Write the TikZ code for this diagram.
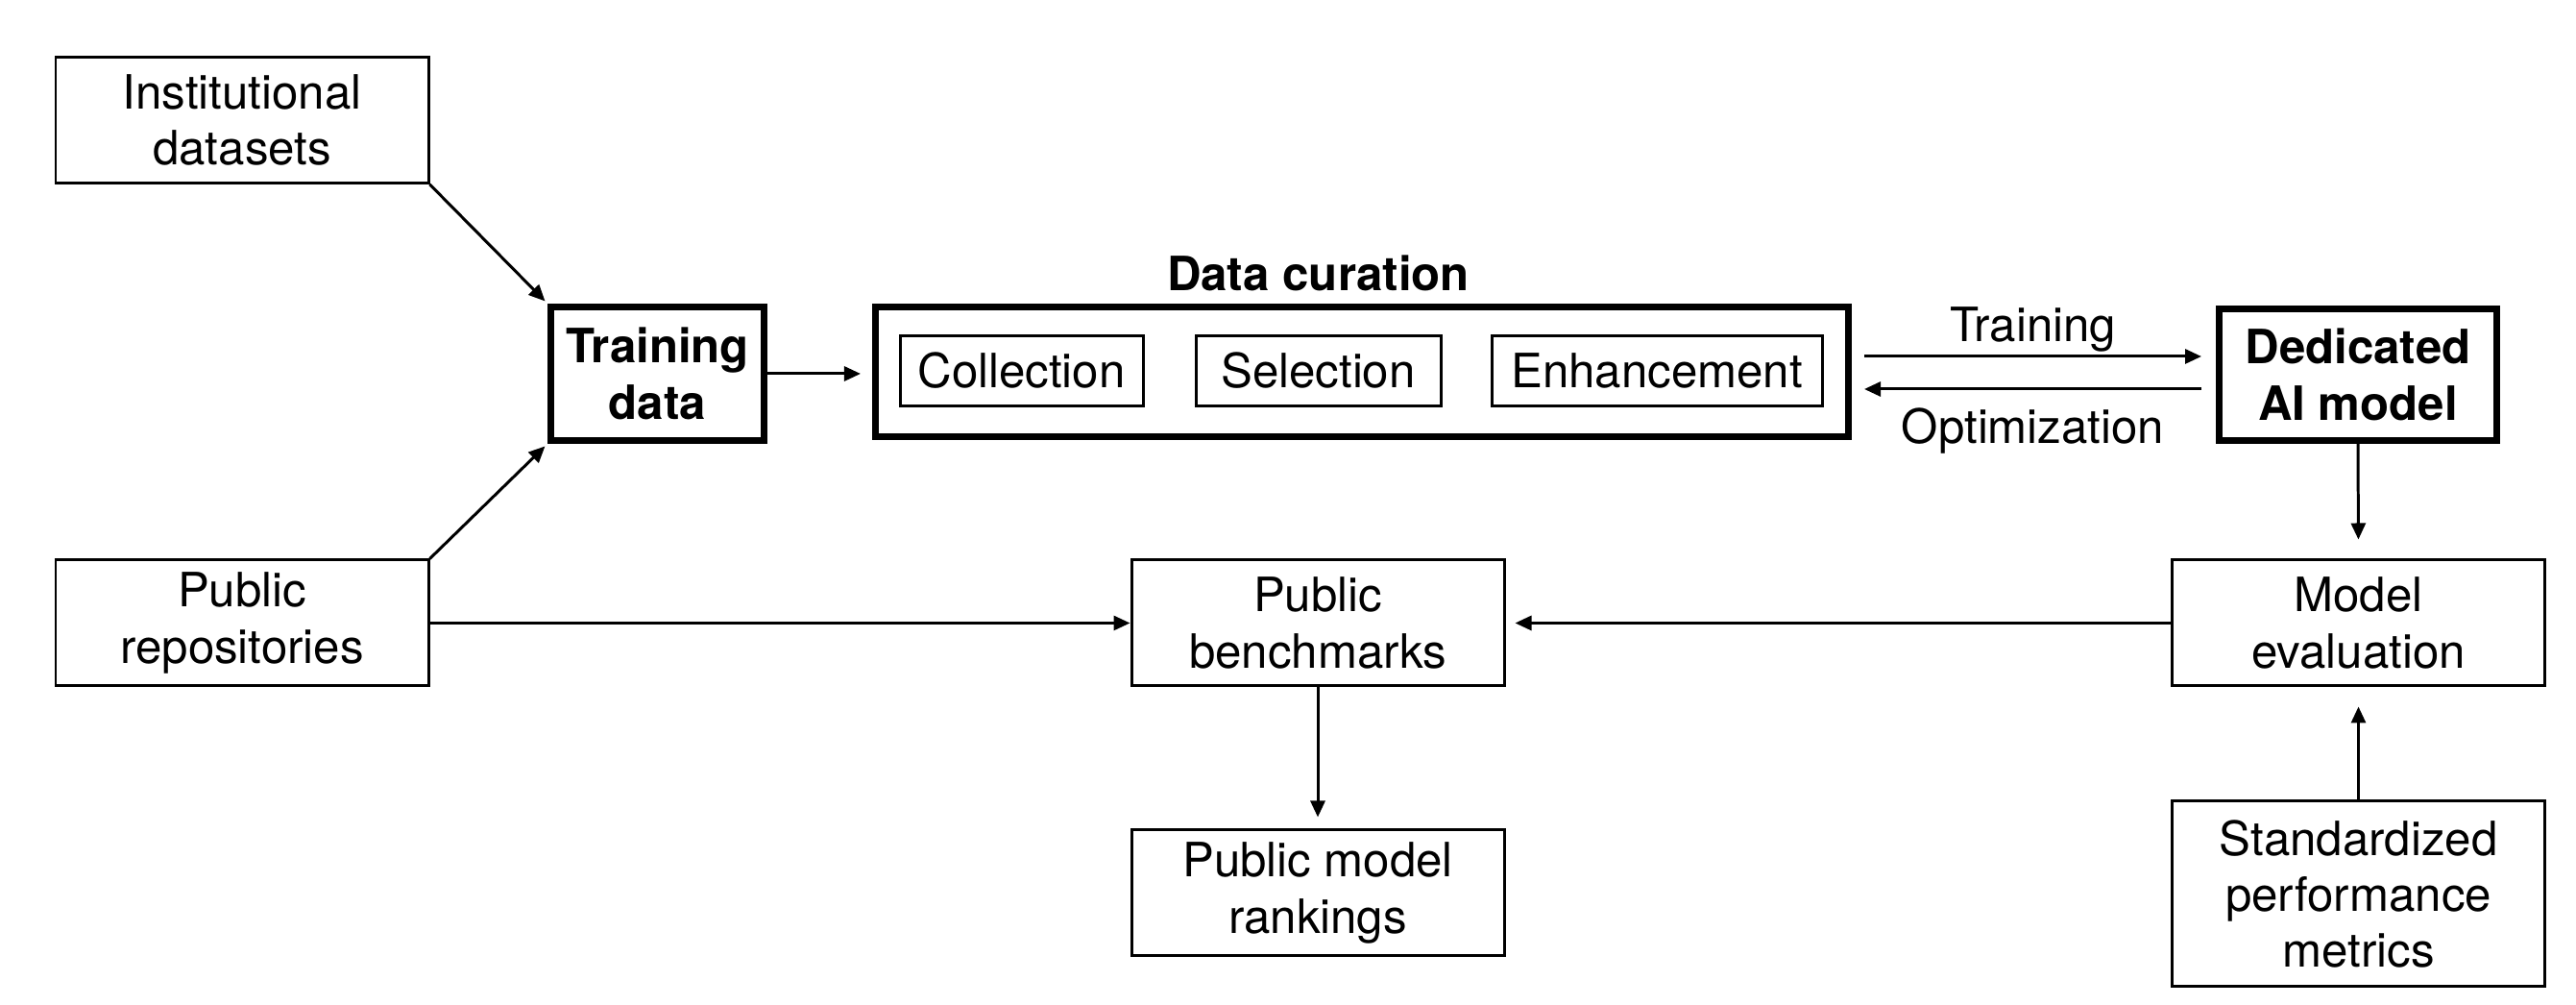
\documentclass[tikz,border=0pt]{standalone}
\usepackage{fontspec}
\setmainfont{TeX Gyre Heros}
\usetikzlibrary{arrows.meta,positioning,calc}
\newcommand\figfont{\fontsize{14}{16.6}\selectfont}
\tikzset{
  box/.style={draw, line width=0.85pt, minimum width=3.88cm, minimum height=1.31cm,
              align=center, inner sep=1pt},
  bbox/.style={draw, line width=2pt, align=center, inner sep=1pt, font=\figfont\bfseries},
  sub/.style={draw, line width=0.85pt, minimum height=0.73cm, inner sep=1pt},
  arr/.style={-{Triangle[length=1.7mm, width=1.5mm]}, line width=0.85pt},
  ttl/.style={font=\figfont\bfseries},
}

\begin{document}
\begin{tikzpicture}[font=\figfont]
    \useasboundingbox (0,0) rectangle (26.82,10.46);
    % sources
    \node[box] (inst) at (2.52,9.21) {Institutional\\datasets};
    \node[box] (prep) at (2.52,3.975) {Public\\repositories};
    \node[bbox, minimum width=2.22cm, minimum height=1.39cm] (train) at (6.845,6.57) {Training\\data};
    % curation block
    \node[bbox, minimum width=10.13cm, minimum height=1.35cm] (cur) at (14.18,6.59) {};
    \node[sub, minimum width=2.53cm] (coll) at (10.635,6.6) {Collection};
    \node[sub, minimum width=2.55cm] (sel) at (13.725,6.6) {Selection};
    \node[sub, minimum width=3.44cm] (enh) at (17.25,6.6) {Enhancement};
    \node[ttl] (curt) at (13.725,7.62) {Data curation};
    % model side
    \node[bbox, minimum width=2.89cm, minimum height=1.37cm] (ded) at (24.55,6.56) {Dedicated\\AI model};
    \node[box] (eval) at (24.555,3.975) {Model\\evaluation};
    \node[box, minimum height=1.93cm] (metr) at (24.555,1.155) {Standardized\\performance\\metrics};
    \node[box] (bench) at (13.72,3.975) {Public\\benchmarks};
    \node[box] (rank) at (13.72,1.165) {Public model\\rankings};
    % connectors
    \draw[arr, shorten >=1pt] (inst.south east) -- (train.north west);
    \draw[arr, shorten >=1pt] (prep.north east) -- (train.south west);
    \draw[arr, shorten >=1.2mm] (train.east) -- (train.east -| cur.west);
    \coordinate (tr1) at ([xshift=1.3mm, yshift=1.6mm]cur.east);
    \coordinate (tr2) at ([xshift=-1.5mm]tr1 -| ded.west);
    \coordinate (op1) at ([xshift=-1.5mm, yshift=-1.5mm]ded.west);
    \coordinate (op2) at ([xshift=1.3mm]op1 -| cur.east);
    \draw[arr] (tr1) -- node[above=-2.5pt] (lbtr) {Training} (tr2);
    \draw[arr] (op1) -- node[below=2pt] (lbop) {Optimization} (op2);
    \draw[arr, shorten >=2mm] (ded.south) -- (eval.north);
    \draw[arr, shorten >=2mm] (metr.north) -- (eval.south);
    \draw[arr] (prep.east) -- (bench.west);
    \draw[arr, shorten >=1mm] (eval.west) -- (bench.east);
    \draw[arr, shorten >=1.2mm] (bench.south) -- (rank.north);
  \end{tikzpicture}
\end{document}
